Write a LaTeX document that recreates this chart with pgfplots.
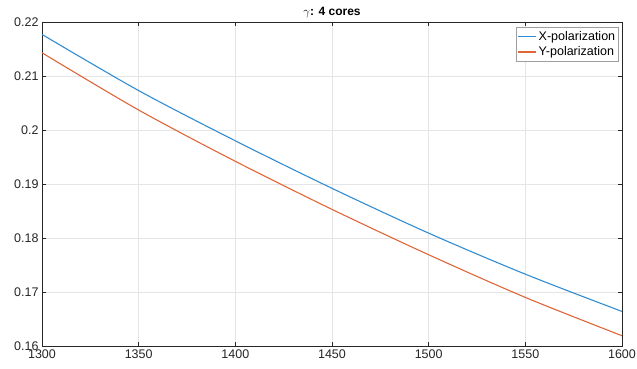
\documentclass[border=0pt]{standalone}
\usepackage{pgfplots}
\pgfplotsset{compat=1.18}
\usepackage{fontspec}
\setmainfont{Liberation Sans}
\usetikzlibrary{calc}
\definecolor{mblue}{rgb}{0.2,0.55,0.82}
\definecolor{morange}{rgb}{0.87,0.40,0.22}
\definecolor{maxis}{rgb}{0.15,0.15,0.15}
\begin{document}
\begin{tikzpicture}
\begin{axis}[
  name=ax,
  scale only axis,
  width=580pt, height=324pt,
  xmin=1300, xmax=1600, ymin=0.16, ymax=0.22,
  xtick={1300,1350,...,1600},
  ytick={0.16,0.17,...,0.221},
  xticklabel style={/pgf/number format/.cd,set thousands separator={}},
  yticklabel style={/pgf/number format/.cd,fixed,precision=2},
  /pgf/number format/assume math mode=true,
  scaled y ticks=false,
  tick align=inside,
  major tick length=4pt,
  tick style={maxis, line width=0.5pt},
  axis line style={maxis, line width=0.6pt},
  grid=major,
  major grid style={gray!20, line width=0.5pt},
  ticklabel style={font=\fontsize{12.5}{14}\selectfont, text=maxis},
  title={$\gamma$\textbf{: 4 cores}},
  title style={font=\fontsize{12}{14}\selectfont, yshift=-5pt},
  legend style={font=\fontsize{12.5}{14}\selectfont, draw=gray!75, line width=0.7pt,
    inner xsep=1pt, inner ysep=2pt, row sep=1pt, at={(0.994,0.985)}, anchor=north east},
  legend cell align=left,
  legend image code/.code={\draw[#1] (0pt,0pt) -- (18pt,0pt);},
]
\addplot[mblue, line width=1.1pt, smooth] coordinates {
(1300,0.2177) (1350,0.2073) (1400,0.1980) (1450,0.1892) (1500,0.1809) (1550,0.1733) (1600,0.1664)};
\addlegendentry{X-polarization}
\addplot[morange, line width=1.1pt, smooth] coordinates {
(1300,0.2143) (1350,0.2037) (1400,0.1942) (1450,0.1853) (1500,0.1769) (1550,0.1690) (1600,0.1619)};
\addlegendentry{Y-polarization}
\end{axis}
\pgfresetboundingbox
\useasboundingbox ($(ax.south west)+(-42pt,-23pt)$) rectangle ($(ax.north east)+(15pt,22pt)$);
\end{tikzpicture}
\end{document}
